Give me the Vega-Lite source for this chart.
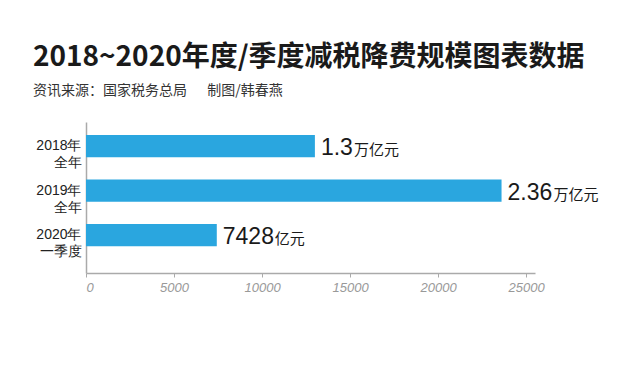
{
  "$schema": "https://vega.github.io/schema/vega-lite/v6.json",
  "width": 449,
  "height": 151,
  "autosize": {"type": "none"},
  "padding": {"left": 86, "top": 122, "right": 108, "bottom": 119},
  "background": "white",
  "config": {"view": {"stroke": null}},
  "title": {
    "text": "2018~2020年度/季度减税降费规模图表数据",
    "subtitle": "资讯来源：国家税务总局\u3000\u00a0\u00a0制图/韩春燕",
    "anchor": "start",
    "frame": "group",
    "dx": -53,
    "offset": 24,
    "font": "Noto Sans CJK SC",
    "fontSize": 28,
    "fontWeight": "bold",
    "color": "#1a1a1a",
    "subtitleFont": "Noto Sans CJK SC",
    "subtitleFontSize": 14,
    "subtitleColor": "#333333",
    "subtitlePadding": 12
  },
  "data": {
    "values": [
      {"cat": "2018年 全年", "value": 13000, "num": "1.3", "unit": "万亿元"},
      {"cat": "2019年 全年", "value": 23600, "num": "2.36", "unit": "万亿元"},
      {"cat": "2020年 一季度", "value": 7428, "num": "7428", "unit": "亿元"}
    ]
  },
  "encoding": {
    "y": {
      "field": "cat",
      "type": "nominal",
      "sort": null,
      "scale": {"paddingInner": 0.5, "paddingOuter": 0.447, "align": 0.327},
      "axis": {
        "title": null,
        "ticks": false,
        "domainColor": "#aaaaaa",
        "domainWidth": 1.5,
        "labelExpr": "split(datum.label, ' ')",
        "labelFont": "Liberation Sans",
        "labelFontSize": 14,
        "labelColor": "#222222",
        "labelLineHeight": 17,
        "labelPadding": 5,
        "labelBaseline": "middle"
      }
    }
  },
  "layer": [
    {
      "mark": {"type": "bar", "color": "#2aa6df"},
      "encoding": {
        "x": {
          "field": "value",
          "type": "quantitative",
          "scale": {"domain": [0, 25500], "nice": false},
          "axis": {
            "title": null,
            "grid": false,
            "values": [0, 5000, 10000, 15000, 20000, 25000],
            "format": "d",
            "domainColor": "#aaaaaa",
            "domainWidth": 1.5,
            "tickColor": "#aaaaaa",
            "tickSize": 4,
            "labelFont": "Liberation Sans",
            "labelFontStyle": "italic",
            "labelFontSize": 13,
            "labelColor": "#999999",
            "labelPadding": 4
          }
        }
      }
    },
    {
      "mark": {"type": "text", "align": "left", "baseline": "alphabetic", "dx": 6, "dy": 9, "fontSize": 23, "font": "Liberation Sans", "color": "#1a1a1a"},
      "encoding": {
        "x": {"field": "value", "type": "quantitative"},
        "text": {"field": "num"}
      }
    },
    {
      "transform": [{"filter": "datum.cat == '2018年 全年'"}],
      "mark": {"type": "text", "align": "left", "baseline": "alphabetic", "dx": 39, "dy": 9, "fontSize": 15, "font": "Noto Sans CJK SC", "color": "#1a1a1a"},
      "encoding": {
        "x": {"field": "value", "type": "quantitative"},
        "text": {"field": "unit"}
      }
    },
    {
      "transform": [{"filter": "datum.cat == '2019年 全年'"}],
      "mark": {"type": "text", "align": "left", "baseline": "alphabetic", "dx": 52, "dy": 9, "fontSize": 15, "font": "Noto Sans CJK SC", "color": "#1a1a1a"},
      "encoding": {
        "x": {"field": "value", "type": "quantitative"},
        "text": {"field": "unit"}
      }
    },
    {
      "transform": [{"filter": "datum.cat == '2020年 一季度'"}],
      "mark": {"type": "text", "align": "left", "baseline": "alphabetic", "dx": 58, "dy": 9, "fontSize": 15, "font": "Noto Sans CJK SC", "color": "#1a1a1a"},
      "encoding": {
        "x": {"field": "value", "type": "quantitative"},
        "text": {"field": "unit"}
      }
    }
  ]
}
